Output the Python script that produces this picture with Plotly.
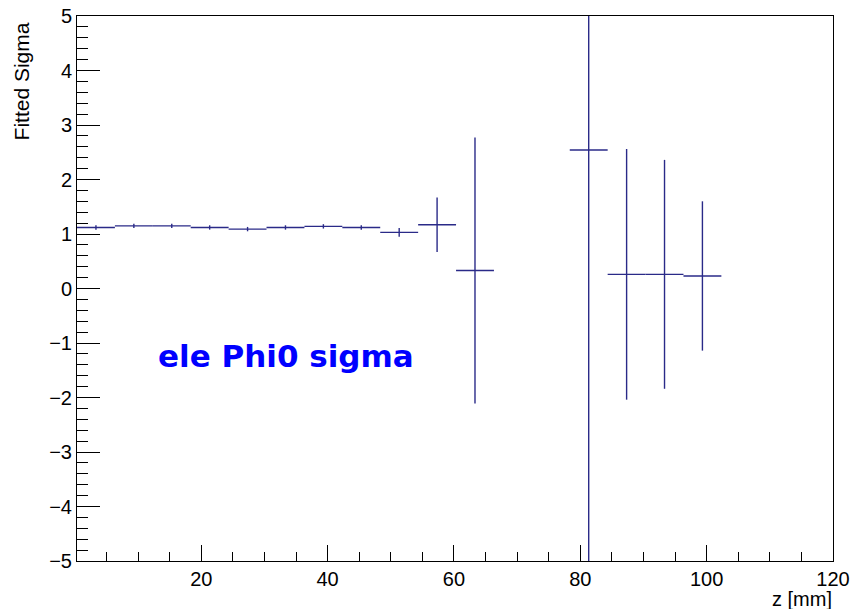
import plotly.graph_objects as go

# Data (bin centres in mm, fitted sigma, error)
z_centers = [3.33, 9.33, 15.33, 21.33, 27.33, 33.33, 39.33, 45.33, 51.33, 57.33,
             63.33, 81.33, 87.33, 93.33, 99.33]
sigma_vals = [1.12, 1.15, 1.15, 1.12, 1.09, 1.12, 1.14, 1.12, 1.03, 1.17,
              0.33, 2.54, 0.26, 0.26, 0.23]
sigma_errs = [0.04, 0.04, 0.04, 0.04, 0.04, 0.04, 0.04, 0.04, 0.08, 0.50,
              2.44, 10.0, 2.30, 2.10, 1.37]
bin_half_width = 3.0

line_col = "#2a2a88"

fig = go.Figure()
fig.add_trace(go.Scatter(
    x=z_centers, y=sigma_vals, mode="markers",
    marker=dict(size=1, color=line_col, opacity=0),
    error_x=dict(type="constant", value=bin_half_width, width=0, color=line_col, thickness=1.4),
    error_y=dict(type="data", array=sigma_errs, width=0, color=line_col, thickness=1.4),
    showlegend=False, hoverinfo="skip",
))

font_main = "Liberation Sans, Arial, Helvetica, sans-serif"

fig.update_layout(
    width=853, height=609,
    margin=dict(l=77, r=20, t=16, b=48, autoexpand=False),
    paper_bgcolor="white", plot_bgcolor="white",
    font=dict(family=font_main, size=20, color="black"),
    xaxis=dict(
        range=[0.33, 120], showgrid=False, zeroline=False, automargin=False,
        showline=True, linecolor="black", linewidth=1, mirror=True,
        ticks="inside", ticklen=16, tickwidth=1, tickcolor="black",
        tick0=0, dtick=20,
        minor=dict(ticks="inside", ticklen=9, tickcolor="black", dtick=5, showgrid=False),
        tickfont=dict(size=20, family=font_main),
    ),
    yaxis=dict(
        range=[-5, 5], showgrid=False, zeroline=False, automargin=False,
        showline=True, linecolor="black", linewidth=1, mirror=True,
        ticks="inside", ticklen=23, tickwidth=1, tickcolor="black",
        tick0=0, dtick=1,
        minor=dict(ticks="inside", ticklen=11, tickcolor="black", dtick=0.2, showgrid=False),
        tickfont=dict(size=20, family=font_main),
        tickformat="d",
    ),
    annotations=[
        dict(text="z [mm]", xref="paper", yref="paper", x=1.0, y=-0.069,
             xanchor="right", yanchor="middle", showarrow=False, borderpad=0,
             font=dict(size=20, family=font_main, color="black")),
        dict(text="Fitted Sigma", xref="paper", yref="paper", x=-0.074, y=0.992,
             xanchor="center", yanchor="top", textangle=-90, showarrow=False,
             font=dict(size=21, family=font_main, color="black")),
        dict(text="<b>ele Phi0 sigma</b>", xref="paper", yref="paper", x=0.104, y=0.377,
             xanchor="left", yanchor="middle", showarrow=False,
             font=dict(size=31, family="DejaVu Sans", color="#0000ff")),
    ],
)

fig.write_html("out.html")
